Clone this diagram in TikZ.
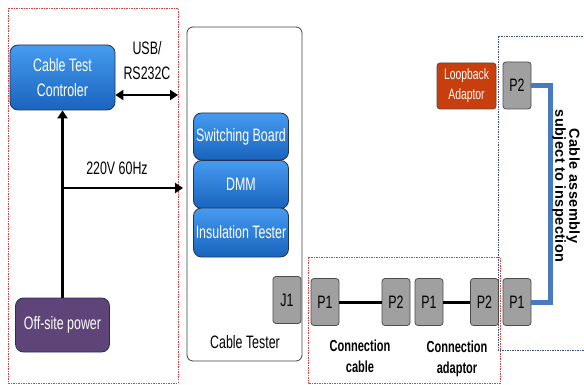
\documentclass[tikz,border=0pt]{standalone}
\usepackage{fontspec}
\setmainfont[FakeStretch=0.69]{Liberation Sans}
\newfontfamily\widefont[LetterSpace=3]{Liberation Sans}
\usetikzlibrary{arrows.meta}
\definecolor{boxtop}{RGB}{70,155,240}
\definecolor{boxbot}{RGB}{25,100,190}
\definecolor{boxline}{RGB}{35,50,80}
\definecolor{powerpurple}{RGB}{95,68,122}
\definecolor{loopred}{RGB}{200,62,12}
\definecolor{portgray}{RGB}{160,160,160}
\definecolor{cableblue}{RGB}{72,122,192}
\definecolor{zonered}{RGB}{220,60,60}
\definecolor{zoneblue}{RGB}{60,80,120}
\tikzset{
  bluebox/.style={draw=boxline, line width=0.8pt, rounded corners=8pt, top color=boxtop, bottom color=boxbot, text=white, inner sep=0pt, font=\fontsize{18}{19}\selectfont},
  port/.style={draw=black!70, line width=0.8pt, rounded corners=3pt, fill=portgray, minimum width=28pt, minimum height=47pt, inner sep=0pt, font=\fontsize{18}{19}\selectfont},
  zone/.style={line width=0.6pt, dash pattern=on 1.5pt off 1pt},
  feed/.style={line width=2.8pt},
  tip/.style={-{Triangle[length=8pt,width=10pt]}},
  plain/.style={font=\fontsize{18}{25}\selectfont, align=center},
  tag/.style={font=\bfseries\fontsize{16}{21}\selectfont, align=center},
}
\begin{document}
\begin{tikzpicture}[x=1pt,y=-1pt]
		%%%%% START %%%%%
		\useasboundingbox (0,0) rectangle (584,385);
		
		% zones
		\draw[zone, zonered] (8,8) rectangle (178,383);
		\draw[zone, zonered] (308,257) rectangle (500,383.5);
		\draw[zone, zoneblue] (590,36) -- (498,36) -- (498,350) -- (590,350);
		
		% left side
		\node[bluebox, minimum width=105pt, minimum height=65pt, align=center, font=\fontsize{18}{25}\selectfont] (ctrl) at (62.5,77.5) {Cable Test\\Controler};
		\node[draw=boxline, line width=0.8pt, rounded corners=8pt, fill=powerpurple, text=white, minimum width=94pt, minimum height=54pt, inner sep=0pt, font=\fontsize{18}{19}\selectfont] (power) at (62.5,325) {Off-site power};
		\node[plain] (usb) at (147,61) {USB/\\RS232C};
		\node[plain] (ac) at (117,168) {220V 60Hz};
		
		\coordinate (usbend) at (178,95);
		\coordinate (acin) at (183,188);
		\draw[feed, {Triangle[length=8pt,width=10pt]}-{Triangle[length=8pt,width=10pt]}] (ctrl.east |- usbend) -- (usbend);
		\draw[feed, tip] (power.north) -- (ctrl.south);
		\draw[feed, tip] (power.north |- acin) -- (acin);
		
		% cable tester
		\node[draw=black!75, line width=0.8pt, rounded corners=6pt, fill=white, minimum width=115pt, minimum height=334pt] (tester) at (244.5,194) {};
		\node[plain] (testerlbl) at (245,342) {Cable Tester};
		\node[bluebox, minimum width=95pt, minimum height=47pt] (sw) at (241,136.5) {Switching Board};
		\node[bluebox, minimum width=95pt, minimum height=48pt] (dmm) at (241,184.5) {DMM};
		\node[bluebox, minimum width=95pt, minimum height=49pt] (ins) at (241,232.5) {Insulation Tester};
		\node[port] (j1) at (287,300) {J1};
		
		% connection cable and adaptor
		\node[port] (cp1) at (325,302) {P1};
		\node[port] (cp2) at (396,302) {P2};
		\node[port] (ap1) at (429,302) {P1};
		\node[port] (ap2) at (484.5,302) {P2};
		\draw[line width=3pt] (cp1) -- (cp2);
		\draw[line width=3pt] (ap1) -- (ap2);
		\node[tag] (cablelbl) at (360,356) {Connection\\cable};
		\node[tag] (adaptlbl) at (457,359) {Connection\\adaptor};
		
		% cable assembly
		\node[port] (ip1) at (517,302) {P1};
		\node[port] (ip2) at (517,85.5) {P2};
		\node[draw=black!70, line width=0.8pt, rounded corners=3pt, fill=loopred, text=white, minimum width=59pt, minimum height=46pt, inner sep=0pt, align=center, font=\fontsize{15}{20}\selectfont] (loop) at (466.5,86) {Loopback\\Adaptor};
		\draw[cableblue, line width=5pt] (ip2.east) -- ++(19,0) |- (ip1.east);
		\node[rotate=-90, align=center, font=\widefont\bfseries\fontsize{14.5}{14}\selectfont] (dutlbl) at (566,186) {Cable assembly\\subject to inspection};
		
		%%%%% END %%%%%
\end{tikzpicture}
\end{document}
